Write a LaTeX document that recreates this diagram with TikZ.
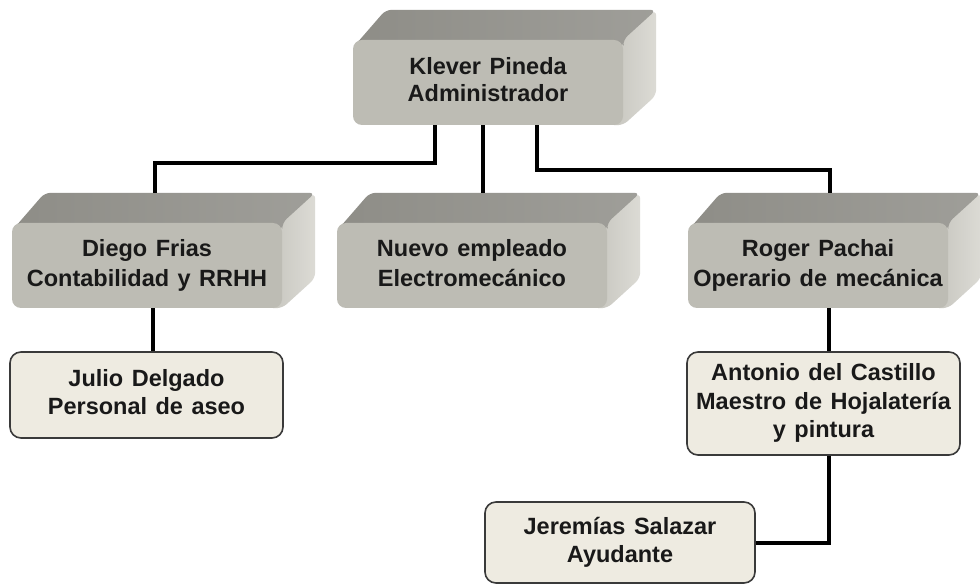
\documentclass[tikz,border=0pt]{standalone}
\usepackage{fontspec}
\setmainfont{Liberation Sans}
\usetikzlibrary{calc}
\pgfdeclarelayer{paper}
\pgfdeclarelayer{background}
\pgfsetlayers{paper,background,main}
\definecolor{frontcol}{HTML}{BDBCB4}
\definecolor{topcol}{HTML}{8E8D87}
\definecolor{sideA}{HTML}{C6C5BE}
\definecolor{sideB}{HTML}{DCDBD5}
\definecolor{creamcol}{HTML}{EEEBE1}
\definecolor{edgecol}{HTML}{3A3A3A}
\newcommand\widesp{\spaceskip 8.5pt\relax}
\newcommand\ntext[2][4.5pt]{\raisebox{#1}{\begin{tabular}{@{}c@{}}#2\end{tabular}}}
\newcommand\bevelbox[1]{%
\begin{pgfonlayer}{background}
\shade[left color=sideA,right color=sideB,rounded corners=6pt]
  ($(#1.north east)+(-14,0)$) -- ($(#1.north east)+(33,-30)$) --
  ($(#1.south east)+(33,-30)$) -- ($(#1.south east)+(0,0)$) -- ($(#1.south east)+(-14,0)$) -- cycle;
\shade[left color=topcol,right color=topcol!85!white,rounded corners=6pt]
  ($(#1.north west)+(0,8)$) -- ($(#1.north west)+(33,-30)$) --
  ($(#1.north east)+(33,-30)$) -- (#1.north east) -- ($(#1.north east)+(0,8)$) -- cycle;
\end{pgfonlayer}}
\tikzset{
  fs/.style={font={\fontsize{23.5}{#1}\selectfont\bfseries\widesp}},
  base/.style={fs=26.7, inner sep=0pt, text=black!90},
  gbox/.style={base, fill=frontcol, rounded corners=9pt, minimum width=270pt, minimum height=85pt},
  lbox/.style={base, fs=28.3, draw=edgecol, line width=1.6pt, fill=creamcol, rounded corners=11pt},
  conn/.style={line width=4pt, black}
}
\begin{document}
\begin{tikzpicture}[x=1pt,y=-1pt]
\begin{pgfonlayer}{paper}
\fill[white] (0,0) rectangle (980,585);
\end{pgfonlayer}
\useasboundingbox (0,0) rectangle (980,585);
% beveled boxes
\node[gbox] (klever) at (488,82.5) {\ntext[5pt]{Klever Pineda\\Administrador}};
\node[gbox, fs=30] (diego) at (147,265.5) {\ntext[3.5pt]{Diego Frias\\Contabilidad y RRHH}};
\node[gbox, fs=29.5] (nuevo) at (472,265.5) {\ntext[3.5pt]{Nuevo empleado\\Electromecánico}};
\node[gbox, fs=30, minimum width=260pt] (roger) at (818,265.5) {\ntext[3.5pt]{Roger Pachai\\Operario de mecánica}};
\bevelbox{klever}
\bevelbox{diego}
\bevelbox{nuevo}
\bevelbox{roger}
% flat boxes
\node[lbox, minimum width=273pt, minimum height=86pt] (julio) at (146.5,395) {\ntext[5pt]{Julio Delgado\\Personal de aseo}};
\node[lbox, minimum width=273pt, minimum height=103pt] (antonio) at (823.5,403.5) {\ntext[1pt]{Antonio del Castillo\\Maestro de Hojalatería\\y pintura}};
\node[lbox, minimum width=270pt, minimum height=81pt] (jeremias) at (620,542.5) {\ntext[5.5pt]{Jeremías Salazar\\Ayudante}};
% connector end points on the top faces
\coordinate (dtop) at ($(diego.north)+(8,-30)$);
\coordinate (ntop) at ($(nuevo.north)+(0,-30)$);
\coordinate (rtop) at ($(roger.north)+(12,-30)$);
% connectors
\draw[conn] ([xshift=-53pt]klever.south) -- ++(0,38) -| (dtop);
\draw[conn] ([xshift=-5pt]klever.south) -- ([xshift=-5pt]klever.south |- ntop);
\draw[conn] ([xshift=49pt]klever.south) -- ++(0,45) -| (rtop);
\draw[conn] ([xshift=6pt]diego.south) -- ([xshift=6pt]diego.south |- julio.north);
\draw[conn] ([xshift=11pt]roger.south) -- ([xshift=11pt]roger.south |- antonio.north);
\draw[conn] ([xshift=5.5pt]antonio.south) |- (jeremias.east);
\end{tikzpicture}
\end{document}
